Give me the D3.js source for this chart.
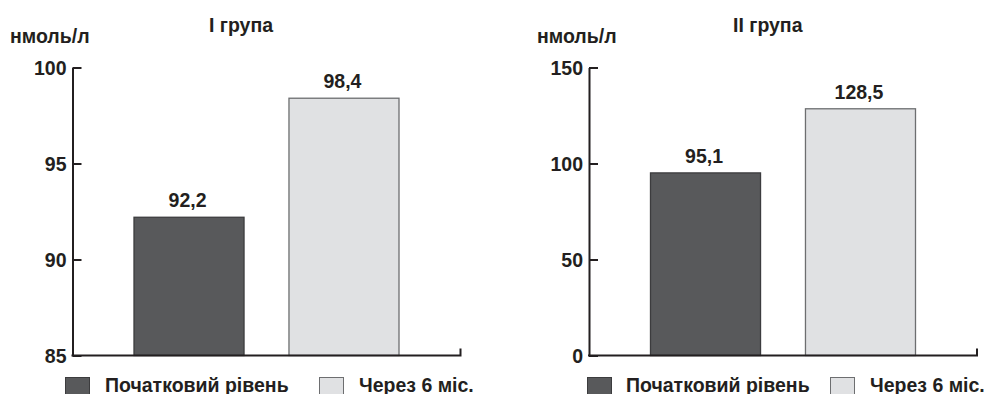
<!DOCTYPE html>
<html>
<head>
<meta charset="utf-8">
<script src="https://cdn.jsdelivr.net/npm/d3@7"></script>
<style>
  html, body { margin: 0; padding: 0; background: #fff; }
  svg { display: block; }
  text { font-family: "Liberation Sans", Arial, Helvetica, sans-serif; font-weight: bold; fill: #231f20; }
</style>
</head>
<body>
<svg id="chart" width="989" height="394"></svg>
<script>
// Categories (legend entries)
const categories = ["Початковий рівень", "Через 6 міс."];

// Group I
const group1Title = "I група";
const group1Values = [92.2, 98.4];
const group1Labels = ["92,2", "98,4"];
const group1Domain = [85, 100];
const group1Ticks = [85, 90, 95, 100];

// Group II
const group2Title = "II група";
const group2Values = [95.1, 128.5];
const group2Labels = ["95,1", "128,5"];
const group2Domain = [0, 150];
const group2Ticks = [0, 50, 100, 150];

const unitLabel = "нмоль/л";

const colors = ["#58595b", "#e0e1e3"];
const strokes = ["#3c3c3e", "#6d6e70"];
const FONT = 19.5;

const svg = d3.select("#chart");

function drawPanel(opt) {
  const g = svg.append("g");
  const top = 67.5, bottom = 355.5;
  const x0 = opt.axisX, x1 = opt.axisX + 388;

  const y = d3.scaleLinear().domain(opt.domain).range([bottom, top]);
  const x = d3.scaleBand()
    .domain(categories)
    .range([x0 + 61.5, x0 + 326.5])
    .paddingInner(0.29)
    .paddingOuter(0);

  // bars
  g.selectAll("rect.bar")
    .data(opt.values)
    .join("rect")
    .attr("class", "bar")
    .attr("x", (d, i) => x(categories[i]))
    .attr("width", x.bandwidth())
    .attr("y", d => y(d))
    .attr("height", d => bottom - y(d))
    .attr("fill", (d, i) => colors[i])
    .attr("stroke", (d, i) => strokes[i])
    .attr("stroke-width", 1.3);

  // value labels
  g.selectAll("text.val")
    .data(opt.values)
    .join("text")
    .attr("class", "val")
    .attr("x", (d, i) => x(categories[i]) + x.bandwidth() / 2 - 1.5)
    .attr("y", d => y(d) - 10)
    .attr("text-anchor", "middle")
    .attr("font-size", FONT)
    .text((d, i) => opt.labels[i]);

  // y axis with inward ticks
  const yAxis = d3.axisLeft(y)
    .tickValues(opt.ticks)
    .tickSizeInner(-9)
    .tickSizeOuter(0)
    .tickPadding(6)
    .tickFormat(d3.format("d"));
  const ya = g.append("g").attr("transform", `translate(${x0},0)`).call(yAxis);
  ya.select(".domain").attr("stroke", "#231f20").attr("stroke-width", 2);
  ya.selectAll(".tick line").attr("stroke", "#231f20").attr("stroke-width", 2);
  ya.selectAll(".tick text")
    .attr("font-size", FONT)
    .attr("font-family", null)
    .attr("fill", "#231f20")
    .attr("dy", "0.36em");

  // baseline with small end mark
  g.append("path")
    .attr("d", `M${x0 - 1},${bottom}H${x1}V${bottom - 7}`)
    .attr("fill", "none")
    .attr("stroke", "#231f20")
    .attr("stroke-width", 2);

  // unit label and title
  g.append("text")
    .attr("x", opt.unitX).attr("y", 43)
    .attr("font-size", FONT)
    .text(unitLabel);
  g.append("text")
    .attr("x", opt.titleX).attr("y", 32)
    .attr("font-size", FONT)
    .text(opt.title);

  // legend
  const lg = g.selectAll("g.leg")
    .data(categories)
    .join("g")
    .attr("class", "leg")
    .attr("transform", (d, i) => `translate(${opt.legendX[i]},377)`);
  lg.append("rect")
    .attr("x", 0.5).attr("y", 0.5)
    .attr("width", 24).attr("height", 19)
    .attr("fill", (d, i) => colors[i])
    .attr("stroke", (d, i) => strokes[i])
    .attr("stroke-width", 1);
  lg.append("text")
    .attr("x", (d, i) => opt.legendTextDx[i])
    .attr("y", 14.5)
    .attr("font-size", FONT)
    .text(d => d);
}

drawPanel({
  axisX: 72.5,
  domain: group1Domain,
  ticks: group1Ticks,
  values: group1Values,
  labels: group1Labels,
  title: group1Title,
  titleX: 209,
  unitX: 10,
  legendX: [65, 319],
  legendTextDx: [40, 40]
});

drawPanel({
  axisX: 589,
  domain: group2Domain,
  ticks: group2Ticks,
  values: group2Values,
  labels: group2Labels,
  title: group2Title,
  titleX: 733,
  unitX: 537,
  legendX: [587, 830],
  legendTextDx: [39, 40]
});
</script>
</body>
</html>
